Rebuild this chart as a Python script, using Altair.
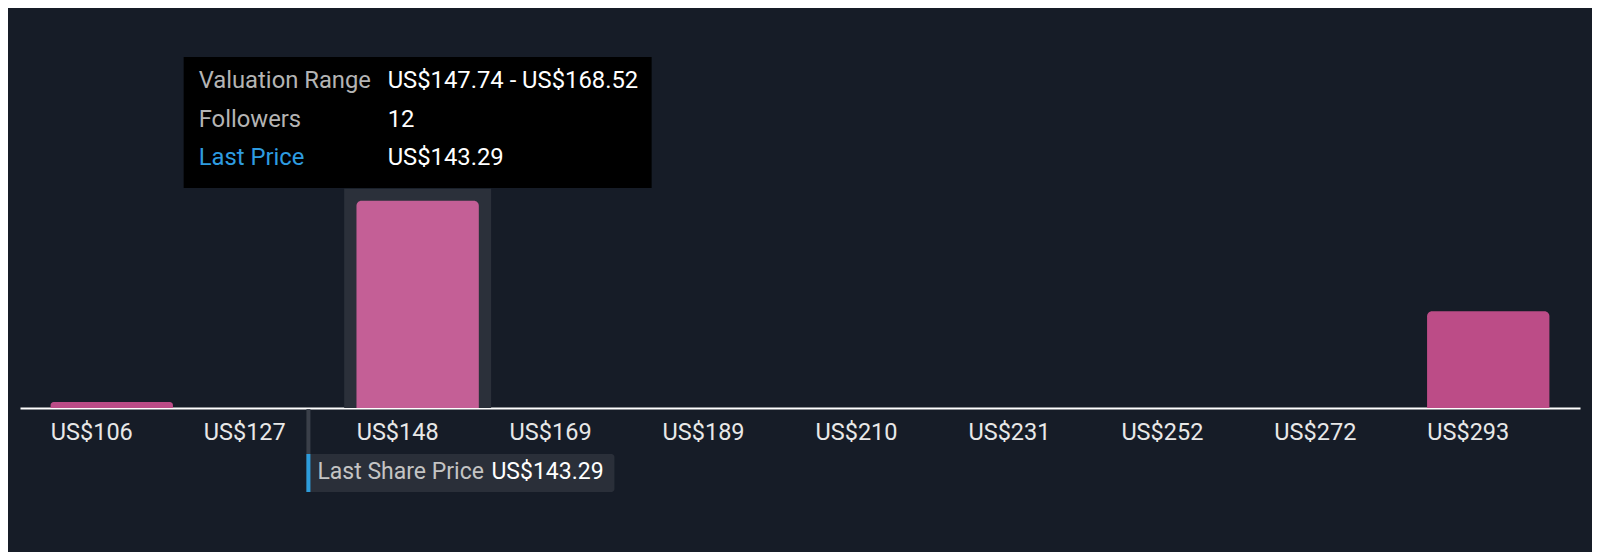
import altair as alt
import pandas as pd

# Valuation bins (US$) and number of followers per bin
bin_edges = [106.18, 126.96, 147.74, 168.52, 189.30, 210.08,
             230.86, 251.64, 272.42, 293.20, 313.98]
followers = [0.35, 0, 12, 0, 0, 0, 0, 0, 0, 5.6]
last_price = 143.29
hover_bin = 2

tooltip_labels = ["Valuation Range", "Followers", "Last Price"]
tooltip_values = ["US$147.74 - US$168.52", "12", "US$143.29"]
tooltip_label_colors = ["#b4b4b4", "#b4b4b4", "#2e9ce0"]

FONT = "Roboto"
FS = 23.5
FS_TIP = 23.8
FS_PRICE = 23
BG = "#161c27"

df = pd.DataFrame({"lo": bin_edges[:-1], "hi": bin_edges[1:], "followers": followers})
df["mid"] = (df["lo"] + df["hi"]) / 2
bin_w = bin_edges[1] - bin_edges[0]
x_dom = [bin_edges[0] - 0.1 * bin_w, bin_edges[-1] + 0.1 * bin_w]
hover = df.iloc[hover_bin]

x_scale = alt.Scale(domain=x_dom, nice=False, zero=False)
y_scale = alt.Scale(domain=[0, 22], nice=False)

base = alt.Chart(df)

highlight = (
    base.transform_filter(f"datum.lo == {hover.lo}")
    .mark_rect(color="#2b303a", xOffset=3, x2Offset=-3, yOffset=-12, y2Offset=0)
    .encode(
        x=alt.X("lo:Q", scale=x_scale,
                axis=alt.Axis(
                    values=bin_edges[:-1],
                    labelExpr="'US$' + format(datum.value, '.0f')",
                    labelAlign="left", labelOffset=15, labelPadding=12,
                    labelFont=FONT, labelFontSize=FS, labelColor="#e8e8e8",
                    labelOverlap=False, labelFlush=False,
                    grid=False, ticks=False, tickSize=0,
                    domainColor="#ffffff", domainWidth=2, title=None,
                )),
        x2="hi:Q",
        y=alt.Y("followers:Q", scale=y_scale, axis=None),
        y2=alt.datum(0),
    )
)

bars = (
    base.transform_filter("datum.followers > 0")
    .mark_rect(cornerRadiusTopLeft=5, cornerRadiusTopRight=5, xOffset=15.3, x2Offset=-15.3)
    .encode(
        x="lo:Q",
        x2="hi:Q",
        y="followers:Q",
        y2=alt.datum(0),
        color=alt.condition(f"datum.lo == {hover.lo}", alt.value("#c45f96"), alt.value("#bc4c87")),
    )
)

# hover tooltip panel
tip_box = alt.Chart(pd.DataFrame({"mid": [hover.mid]})).mark_rect(
    color="#000000", xOffset=-234, x2Offset=234
).encode(x="mid:Q", x2="mid:Q", y=alt.value(29), y2=alt.value(160))

tip_layers = []
for i, (lab, val, col) in enumerate(zip(tooltip_labels, tooltip_values, tooltip_label_colors)):
    ypix = 60 + i * 38.5
    tip_layers.append(
        alt.Chart(pd.DataFrame({"t": [lab]})).mark_text(
            font=FONT, fontSize=FS_TIP, color=col, align="left", baseline="alphabetic", dx=-219
        ).encode(x=alt.datum(hover.mid), y=alt.value(ypix), text="t:N")
    )
    tip_layers.append(
        alt.Chart(pd.DataFrame({"t": [val]})).mark_text(
            font=FONT, fontSize=FS_TIP, color="#ffffff", align="left", baseline="alphabetic", dx=-30
        ).encode(x=alt.datum(hover.mid), y=alt.value(ypix), text="t:N")
    )

# last share price marker
price_df = pd.DataFrame({"price": [last_price], "lab": ["Last Share Price"], "val": [f"US${last_price:.2f}"]})
price_base = alt.Chart(price_df)
price_rule = price_base.mark_rule(color="#3a3f49", strokeWidth=4).encode(
    x="price:Q", y=alt.value(381), y2=alt.value(464)
)
price_box = price_base.mark_rect(color="#2a2f39", cornerRadius=3, xOffset=-2, x2Offset=306).encode(
    x="price:Q", x2="price:Q", y=alt.value(426), y2=alt.value(464)
)
price_stripe = price_base.mark_rect(color="#2d9cdb", xOffset=-2, x2Offset=2).encode(
    x="price:Q", x2="price:Q", y=alt.value(426), y2=alt.value(464)
)
price_lab = price_base.mark_text(
    font=FONT, fontSize=FS_PRICE, color="#c4c4c4", align="left", baseline="middle", dx=9
).encode(x="price:Q", y=alt.value(444), text="lab:N")
price_val = price_base.mark_text(
    font=FONT, fontSize=FS_PRICE, color="#ffffff", align="left", baseline="middle", dx=183
).encode(x="price:Q", y=alt.value(444), text="val:N")

chart = (
    alt.layer(highlight, bars, price_rule, price_box, price_stripe, price_lab, price_val,
              tip_box, *tip_layers)
    .properties(
        width=1560, height=380,
        autosize=alt.AutoSizeParams(type="none"),
        padding={"left": 12, "top": 20, "right": 12, "bottom": 144},
        background=BG,
    )
    .configure_view(stroke=None)
)

chart.save("out.html", embed_options={"renderer": "svg", "actions": False})
